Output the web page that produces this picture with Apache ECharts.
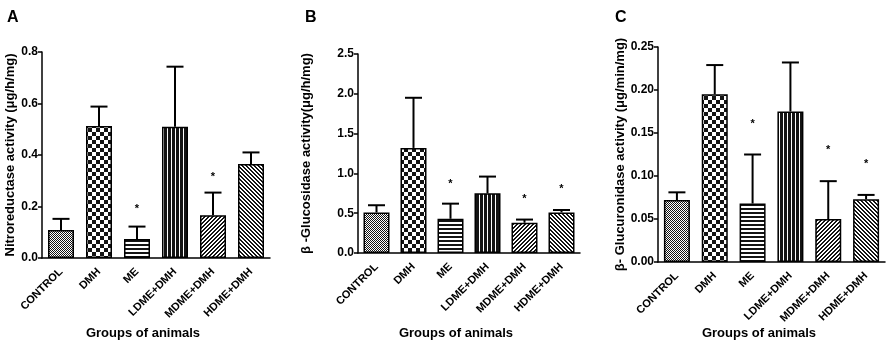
<!DOCTYPE html>
<html><head><meta charset="utf-8">
<script src="https://cdn.jsdelivr.net/npm/echarts@6/dist/echarts.min.js"></script>
<style>html,body{margin:0;padding:0;background:#fff}#c{width:894px;height:349px}</style>
</head><body><div id="c"></div>
<script>
// ---------- data ----------
const categories = ['CONTROL', 'DMH', 'ME', 'LDME+DMH', 'MDME+DMH', 'HDME+DMH'];

const nitroMean = [0.109, 0.513, 0.074, 0.510, 0.166, 0.365];
const nitroUpper = [0.152, 0.588, 0.122, 0.743, 0.254, 0.410];
const nitroStar = [null, null, 0.19, null, 0.316, null];

const glucosMean = [0.51, 1.32, 0.43, 0.75, 0.38, 0.51];
const glucosUpper = [0.60, 1.95, 0.62, 0.96, 0.42, 0.54];
const glucosStar = [null, null, 0.865, null, 0.68, 0.80];

const glucurMean = [0.072, 0.195, 0.068, 0.175, 0.050, 0.073];
const glucurUpper = [0.081, 0.229, 0.125, 0.232, 0.094, 0.078];
const glucurStar = [null, null, 0.161, null, 0.13, 0.114];

const panelLetters = ['A', 'B', 'C'];
const yTitles = ['Nitroreductase activity (\u03bcg/h/mg)', '\u03b2 -Glucosidase activity(\u03bcg/h/mg)', '\u03b2- Glucuronidase activity (\u03bcg/min/mg)'];
const xTitle = 'Groups of animals';
const yMax = [0.8, 2.5, 0.25];
const yStep = [0.2, 0.5, 0.05];
const yDecimals = [1, 1, 2];

// ---------- patterns ----------
function pattern(w, h, fn) {
  const c = document.createElement('canvas');
  c.width = w; c.height = h;
  const ctx = c.getContext('2d');
  const img = ctx.createImageData(w, h);
  for (let y = 0; y < h; y++) for (let x = 0; x < w; x++) {
    const k = (y * w + x) * 4;
    const v = fn(x, y) ? 20 : 255;
    img.data[k] = v; img.data[k + 1] = v; img.data[k + 2] = v; img.data[k + 3] = 255;
  }
  ctx.putImageData(img, 0, 0);
  return { image: c, repeat: 'repeat' };
}
const patterns = [
  pattern(2, 2, (x, y) => (x + y) % 2 === 0),                          // fine checker
  pattern(8, 8, (x, y) => ((x >> 2) + (y >> 2)) % 2 === 0),           // checkerboard
  pattern(1, 4, (x, y) => y % 4 < 2),                                  // horizontal
  pattern(4, 1, (x, y) => x % 4 < 3),                                  // vertical
  pattern(4, 4, (x, y) => (x + y) % 4 < 2),                            // ///
  pattern(4, 4, (x, y) => ((x - y) % 4 + 4) % 4 < 2)                   // \\\
];

// ---------- layout ----------
const grids = [
  { left: 42, right: 894 - 270, top: 52, bottom: 349 - 258 },
  { left: 358, right: 894 - 580, top: 54, bottom: 349 - 253 },
  { left: 658, right: 894 - 885, top: 47, bottom: 349 - 262 }
];
const nameGaps = [23, 45, 30];
const means = [nitroMean, glucosMean, glucurMean];
const uppers = [nitroUpper, glucosUpper, glucurUpper];
const stars = [nitroStar, glucosStar, glucurStar];

const FONT = 'Liberation Sans, Arial, sans-serif';

function errRender(params, api) {
  const i = api.value(0);
  const p0 = api.coord([i, api.value(1)]);
  const p1 = api.coord([i, api.value(2)]);
  const hw = 8.5;
  return {
    type: 'group', children: [
      { type: 'line', shape: { x1: p0[0], y1: p0[1], x2: p1[0], y2: p1[1] }, style: { stroke: '#000', lineWidth: 2 } },
      { type: 'line', shape: { x1: p1[0] - hw, y1: p1[1], x2: p1[0] + hw, y2: p1[1] }, style: { stroke: '#000', lineWidth: 2 } }
    ]
  };
}
function starRender(params, api) {
  const p = api.coord([api.value(0), api.value(1)]);
  return { type: 'text', x: p[0], y: p[1], style: { text: '*', fill: '#000', font: 'bold 11px ' + FONT, align: 'center', verticalAlign: 'middle' } };
}

const xAxes = [], yAxes = [], series = [];
for (let g = 0; g < 3; g++) {
  xAxes.push({
    type: 'category', gridIndex: g, data: categories,
    axisLine: { lineStyle: { color: '#000', width: 1.5 } },
    axisTick: { alignWithLabel: true, length: 5, lineStyle: { color: '#000', width: 1.5 } },
    axisLabel: { interval: 0, rotate: 45, margin: 12, fontFamily: FONT, fontWeight: 'bold', fontSize: 11, color: '#000' }
  });
  yAxes.push({
    type: 'value', gridIndex: g, min: 0, max: yMax[g], interval: yStep[g],
    name: yTitles[g], nameLocation: 'middle', nameRotate: 90, nameGap: nameGaps[g],
    nameTextStyle: { fontFamily: FONT, fontWeight: 'bold', fontSize: 13, color: '#000' },
    splitLine: { show: false },
    axisLine: { show: true, lineStyle: { color: '#000', width: 1.5 } },
    axisTick: { show: true, length: 4, lineStyle: { color: '#000', width: 1.5 } },
    axisLabel: { margin: 4, fontFamily: FONT, fontWeight: 'bold', fontSize: 12, color: '#000',
      formatter: (v => (val => val.toFixed(yDecimals[v])))(g) }
  });
  series.push({
    type: 'bar', xAxisIndex: g, yAxisIndex: g, barWidth: 26,
    data: means[g].map((v, i) => ({ value: v, itemStyle: { color: patterns[i], borderColor: '#000', borderWidth: 1.5 } })),
    silent: true, z: 2
  });
  series.push({
    type: 'custom', xAxisIndex: g, yAxisIndex: g, renderItem: errRender, z: 3,
    data: means[g].map((v, i) => [i, v, uppers[g][i]]), silent: true
  });
  series.push({
    type: 'custom', xAxisIndex: g, yAxisIndex: g, renderItem: starRender, z: 3,
    data: stars[g].map((v, i) => v == null ? null : [i, v]).filter(d => d), silent: true
  });
}

const letterX = [7, 305, 615];
const xTitleX = [143, 456, 759];
const graphics = [];
for (let g = 0; g < 3; g++) {
  graphics.push({ type: 'text', left: letterX[g], top: 10, style: { text: panelLetters[g], font: 'bold 16px ' + FONT, fill: '#000' } });
  graphics.push({ type: 'text', x: xTitleX[g], y: 333, style: { text: xTitle, font: 'bold 13px ' + FONT, fill: '#000', align: 'center', verticalAlign: 'middle' } });
}

const chart = echarts.init(document.getElementById('c'), null, { renderer: 'canvas' });
chart.setOption({
  animation: false,
  backgroundColor: '#fff',
  grid: grids,
  xAxis: xAxes,
  yAxis: yAxes,
  series: series,
  graphic: graphics
});
</script>
</body></html>
